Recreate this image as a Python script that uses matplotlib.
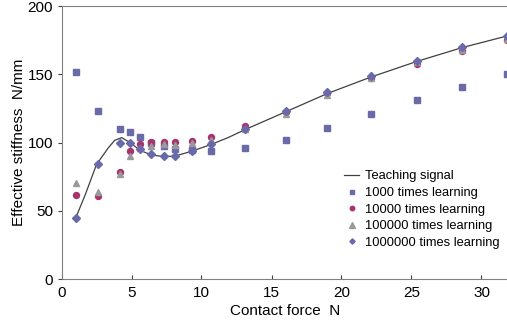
import matplotlib
matplotlib.use("Agg")
import matplotlib.pyplot as plt

plt.rcParams['font.family'] = ['Liberation Sans', 'DejaVu Sans']

# contact force at the learning points
force = [1.0, 2.6, 4.2, 4.9, 5.6, 6.4, 7.3, 8.1, 9.3, 10.7, 13.1, 16.0, 19.0, 22.1, 25.4, 28.6, 31.8]
learn_1e3 = [152, 123, 110, 108, 104.5, 100, 97.5, 95, 94.3, 93.8, 96, 102, 111, 121, 131, 141, 150]
learn_1e4 = [61.5, 60.7, 78.7, 93.8, 98.7, 100.7, 100.7, 100.5, 101.2, 104.4, 112.5, 122.5, 136, 147.5, 157.6, 167.4, 175.2]
learn_1e5 = [70.6, 64, 77.2, 90.2, 96, 97.5, 98.7, 98, 99.5, 102.2, 110.3, 121.3, 134.8, 147.5, 159, 168, 176]
learn_1e6 = [44.5, 84.3, 100, 99.7, 95, 91.6, 90.4, 90.4, 93.6, 99.3, 110.3, 123.3, 137, 149, 160, 169.8, 178]

# teaching signal
teach_x = [1.0, 1.7, 2.5, 3.35, 3.8, 4.3, 4.9, 5.6, 6.4, 7.3, 8.1, 9.2, 10.7, 11.9, 13.1,
           16.0, 19.0, 22.1, 25.4, 28.6, 31.8, 32.0]
teach_y = [44.5, 62, 84, 96.3, 101.7, 103.7, 100, 94.5, 91, 89.8, 90.2, 93.4, 98.7, 103.7, 109.5,
           122.5, 136, 148, 159.5, 169.5, 178, 178.5]

fig = plt.figure(figsize=(5.07, 3.31), dpi=100)
ax = fig.add_axes([61.5 / 507, 1 - 279.3 / 331, 448 / 507, (279.3 - 6) / 331])

ax.plot(teach_x, teach_y, color='#404040', lw=0.9, label='Teaching signal')
ax.plot(force, learn_1e3, 's', ms=4.8, color='#6a6aa8', label='1000 times learning')
ax.plot(force, learn_1e4, 'o', ms=4.3, color='#a8346e', label='10000 times learning')
ax.plot(force, learn_1e5, '^', ms=5, color='#9a9a9a', label='100000 times learning')
ax.plot(force, learn_1e6, 'D', ms=3.6, color='#6a6aaa', label='1000000 times learning')

ax.set_xlim(0, 32)
ax.set_ylim(0, 200)
ax.set_xticks([0, 5, 10, 15, 20, 25, 30])
ax.set_yticks([0, 50, 100, 150, 200])
ax.tick_params(axis='x', direction='in', length=3, color='#404040', labelsize=11, pad=5)
ax.tick_params(axis='y', direction='out', length=3, color='#404040', labelsize=11, pad=3)
for s in ['left', 'bottom', 'top']:
    ax.spines[s].set_color('#808080')
ax.spines['right'].set_visible(False)

ax.set_xlabel('Contact force  N', fontsize=11, labelpad=3)
ax.set_ylabel('Effective stiffness  N/mm', fontsize=11, labelpad=1)

ax.legend(loc='upper left', bbox_to_anchor=(338 / 507, 1 - 164 / 331),
          bbox_transform=fig.transFigure, frameon=False, fontsize=9.3,
          handlelength=1.1, handletextpad=0.5, labelspacing=0.35, borderpad=0,
          markerscale=0.75)

fig.savefig('out.png', dpi=100)
